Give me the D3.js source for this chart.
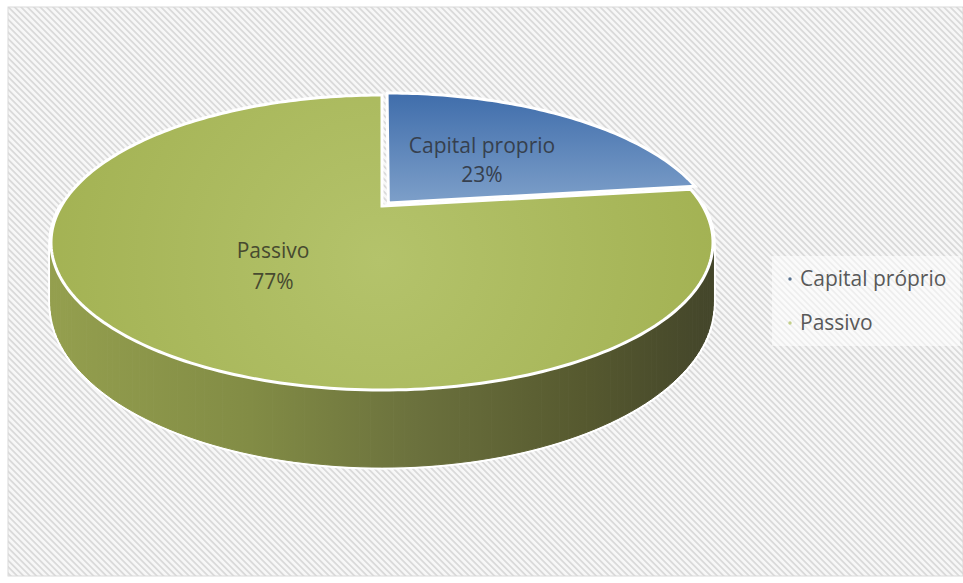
<!DOCTYPE html>
<html>
<head>
<meta charset="utf-8">
<script src="https://cdn.jsdelivr.net/npm/d3@7"></script>
<style>
  html, body { margin: 0; padding: 0; background: #ffffff; }
  svg { display: block; }
</style>
</head>
<body>
<svg id="chart" width="963" height="583"></svg>
<script>
// ---- data ----
const categories = ["Capital próprio", "Passivo"];
const sliceLabels = ["Capital proprio", "Passivo"];
const values = [23, 77];
const percentLabels = ["23%", "77%"];

// ---- setup ----
const W = 963, H = 583;
const svg = d3.select("#chart");
const defs = svg.append("defs");

// hatch background
const pat = defs.append("pattern")
  .attr("id", "hatch").attr("patternUnits", "userSpaceOnUse")
  .attr("width", 4.5).attr("height", 4.5)
  .attr("patternTransform", "rotate(-45)");
pat.append("rect").attr("width", 4.5).attr("height", 4.5).attr("fill", "#f7f7f7");
pat.append("rect").attr("x", 0).attr("y", 0).attr("width", 1.8).attr("height", 4.5).attr("fill", "#dadada");

svg.append("rect").attr("x", 8).attr("y", 7).attr("width", W - 8).attr("height", 569)
  .attr("fill", "url(#hatch)").attr("stroke", "#d9d9d9").attr("stroke-width", 1);

// gradients
const sideGrad = defs.append("linearGradient").attr("id", "sideGrad")
  .attr("gradientUnits", "userSpaceOnUse").attr("x1", 50).attr("x2", 716).attr("y1", 0).attr("y2", 0);
[[0, "#949f4e"], [0.3, "#828c45"], [0.55, "#6b713d"], [0.8, "#56592f"], [1, "#43452a"]]
  .forEach(([o, c]) => sideGrad.append("stop").attr("offset", o).attr("stop-color", c));

const greenGrad = defs.append("radialGradient").attr("id", "greenGrad")
  .attr("gradientUnits", "userSpaceOnUse").attr("cx", 380).attr("cy", 260).attr("r", 340);
[[0, "#b4c36b"], [1, "#a3b253"]]
  .forEach(([o, c]) => greenGrad.append("stop").attr("offset", o).attr("stop-color", c));

const blueGrad = defs.append("linearGradient").attr("id", "blueGrad")
  .attr("x1", 0).attr("x2", 0).attr("y1", 0).attr("y2", 1);
[[0, "#3f6dab"], [1, "#7d9fc9"]]
  .forEach(([o, c]) => blueGrad.append("stop").attr("offset", o).attr("stop-color", c));

const fills = ["url(#blueGrad)", "url(#greenGrad)"];

// ---- perspective projection of the pie disc ----
const cx = 382, A = 320.7;
const alpha = 206, beta = 87.5, p = 0.2475;
const depth = 58;
function proj(theta, d, ou, ov) {
  const u = Math.sin(theta) + (ou || 0);
  const v = -Math.cos(theta) + (ov || 0);
  const w = 1 - p * v;
  return [cx + A * u / w, (alpha + beta * v) / w + (d || 0) / w];
}
function projUV(u, v, d) {
  const w = 1 - p * v;
  return [cx + A * u / w, (alpha + beta * v) / w + (d || 0) / w];
}

const pie = d3.pie().sort(null).value(d => d)(values);
const explode = [0.03, 0];

// ---- side (cylinder wall, front half only) ----
const N = 120;
const angle = d3.scaleLinear().domain([0, N]).range([Math.PI / 2, 3 * Math.PI / 2]);
const quads = d3.range(N).map(i => {
  const a0 = angle(i), a1 = angle(i + 1);
  return [proj(a0, 0), proj(a1, 0), proj(a1, depth), proj(a0, depth)];
});
const line = d3.line().curve(d3.curveLinearClosed);
const sideG = svg.append("g");
sideG.selectAll("path.halo").data(quads).join("path").attr("class", "halo")
  .attr("d", line).attr("fill", "#ffffff").attr("stroke", "#ffffff").attr("stroke-width", 5)
  .attr("stroke-linejoin", "round");
sideG.selectAll("path.wall").data(quads).join("path").attr("class", "wall")
  .attr("d", line).attr("fill", "url(#sideGrad)").attr("stroke", "url(#sideGrad)").attr("stroke-width", 1);

// ---- top faces ----
function slicePath(s, i) {
  const e = explode[i];
  const mid = (s.startAngle + s.endAngle) / 2;
  const ou = e * Math.sin(mid), ov = -e * Math.cos(mid);
  const steps = Math.max(8, Math.ceil((s.endAngle - s.startAngle) / 0.02));
  const pts = [projUV(ou, ov, 0)];
  d3.range(steps + 1).forEach(k => {
    const t = s.startAngle + (s.endAngle - s.startAngle) * k / steps;
    pts.push(proj(t, 0, ou, ov));
  });
  return line(pts);
}
svg.append("g").selectAll("path").data(pie).join("path")
  .attr("d", slicePath)
  .attr("fill", (d, i) => fills[i])
  .attr("stroke", "#ffffff").attr("stroke-width", 3).attr("stroke-linejoin", "miter");

// ---- data labels ----
const labelPos = [[482, 146], [273, 251]];
const labelGap = [29, 31];
const labelColor = ["#36404e", "#474a30"];
const lab = svg.append("g").attr("font-family", "'Open Sans', Lato, sans-serif")
  .attr("font-size", 21).attr("text-anchor", "middle");
pie.forEach((s, i) => {
  lab.append("text").attr("x", labelPos[i][0]).attr("y", labelPos[i][1]).attr("dy", "0.35em")
    .attr("fill", labelColor[i]).text(sliceLabels[i]);
  lab.append("text").attr("x", labelPos[i][0]).attr("y", labelPos[i][1] + labelGap[i]).attr("dy", "0.35em")
    .attr("fill", labelColor[i]).text(percentLabels[i]);
});

// ---- legend ----
const leg = svg.append("g");
leg.append("rect").attr("x", 772).attr("y", 256).attr("width", 188).attr("height", 90)
  .attr("fill", "#ffffff").attr("opacity", 0.55);
const markerCol = ["#55708f", "#c3cf8a"];
const ly = d3.scalePoint().domain(categories).range([279, 323]);
categories.forEach((c, i) => {
  leg.append("circle").attr("cx", 790).attr("cy", ly(c)).attr("r", 1.7).attr("fill", markerCol[i]);
  leg.append("text").attr("x", 800).attr("y", ly(c)).attr("dy", "0.35em")
    .attr("font-family", "'Open Sans', Lato, sans-serif").attr("font-size", 21)
    .attr("fill", "#595959").text(c);
});
</script>
</body>
</html>
